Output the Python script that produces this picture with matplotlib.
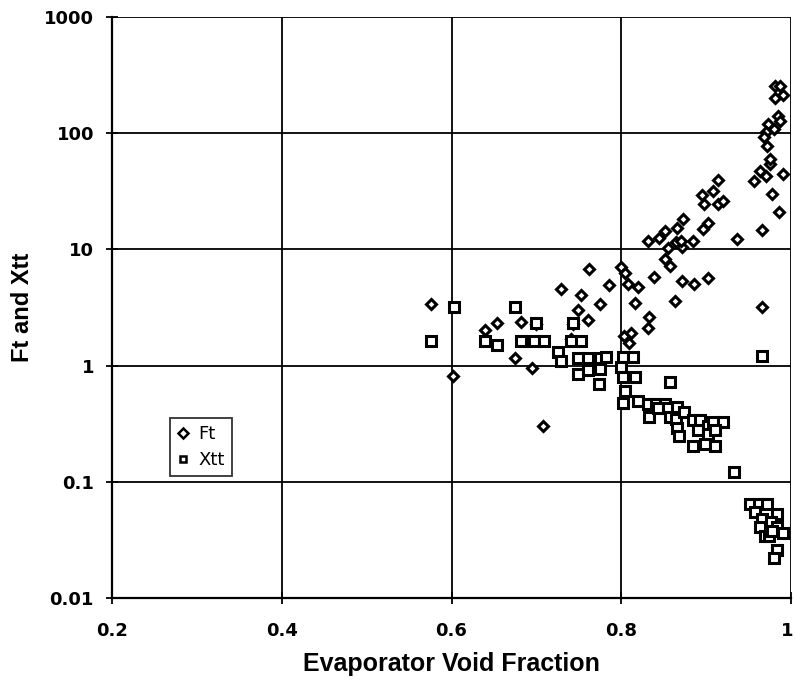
import matplotlib
matplotlib.use("Agg")
import matplotlib.pyplot as plt
import matplotlib.transforms as mtrans
from matplotlib.ticker import FixedLocator, FixedFormatter, NullLocator

# Ft data (diamonds)
ft_x = [0.576, 0.602, 0.640, 0.654, 0.682, 0.675, 0.695, 0.708, 0.700, 0.729,
        0.752, 0.749, 0.761, 0.775, 0.743, 0.741, 0.762, 0.786, 0.800, 0.805,
        0.808, 0.820, 0.816, 0.803, 0.811, 0.809, 0.833, 0.831, 0.839, 0.863,
        0.871, 0.886, 0.902, 0.851, 0.858, 0.831, 0.845, 0.852, 0.866, 0.873,
        0.864, 0.872, 0.884, 0.855, 0.896, 0.902, 0.936, 0.966, 0.895, 0.897,
        0.908, 0.914, 0.914, 0.920, 0.956, 0.964, 0.970, 0.975, 0.990, 0.978,
        0.986, 0.966, 0.981, 0.987, 0.991, 0.981, 0.985, 0.987, 0.973, 0.980,
        0.970, 0.968, 0.972, 0.975, 0.870]
ft_y = [3.42, 0.82, 2.04, 2.34, 2.39, 1.17, 0.96, 0.30, 2.30, 4.60,
        4.08, 3.03, 2.49, 3.42, 2.30, 1.71, 6.84, 4.95, 7.11, 6.23,
        5.08, 4.72, 3.48, 1.81, 1.92, 1.56, 2.60, 2.09, 5.75, 3.62,
        5.39, 5.05, 5.64, 8.33, 7.25, 11.9, 12.6, 14.5, 15.4, 18.4,
        11.5, 10.4, 11.7, 10.2, 15.1, 16.8, 12.4, 14.8, 29.6, 24.8,
        32.1, 39.9, 24.8, 26.3, 38.5, 47.6, 43.1, 54.7, 44.9, 30.2,
        20.9, 3.22, 257, 257, 215, 199, 142, 128, 121, 109,
        102, 92, 78, 60, 11.9]

# Xtt data (squares)
xtt_x = [0.576, 0.603, 0.675, 0.640, 0.654, 0.682, 0.697, 0.709, 0.700, 0.743,
         0.726, 0.729, 0.741, 0.753, 0.749, 0.761, 0.775, 0.782, 0.761, 0.775,
         0.749, 0.774, 0.802, 0.814, 0.800, 0.802, 0.816, 0.857, 0.804, 0.802,
         0.820, 0.831, 0.841, 0.851, 0.833, 0.843, 0.855, 0.866, 0.857, 0.864,
         0.874, 0.866, 0.868, 0.884, 0.893, 0.902, 0.908, 0.920, 0.890, 0.902,
         0.911, 0.899, 0.911, 0.884, 0.966, 0.933, 0.952, 0.962, 0.972, 0.958,
         0.966, 0.984, 0.964, 0.976, 0.969, 0.984, 0.990, 0.984, 0.980, 0.974,
         0.978]
xtt_y = [1.64, 3.18, 3.18, 1.64, 1.49, 1.64, 1.64, 1.64, 2.31, 2.31,
         1.30, 1.10, 1.64, 1.64, 1.17, 1.17, 1.17, 1.18, 0.91, 0.94,
         0.85, 0.69, 1.18, 1.18, 0.97, 0.79, 0.79, 0.72, 0.61, 0.48,
         0.50, 0.47, 0.47, 0.47, 0.36, 0.43, 0.43, 0.44, 0.36, 0.35,
         0.40, 0.29, 0.25, 0.34, 0.34, 0.30, 0.33, 0.33, 0.28, 0.26,
         0.28, 0.21, 0.205, 0.205, 1.22, 0.121, 0.065, 0.065, 0.065, 0.055,
         0.048, 0.053, 0.041, 0.045, 0.034, 0.041, 0.036, 0.026, 0.022, 0.034,
         0.038]

x_ticks = [0.2, 0.4, 0.6, 0.8, 1.0]
x_labels = ["0.2", "0.4", "0.6", "0.8", "1"]
y_ticks = [0.01, 0.1, 1, 10, 100, 1000]
y_labels = ["0.01", "0.1", "1", "10", "100", "1000"]

plt.rcParams['font.family'] = ['Liberation Sans', 'DejaVu Sans']

fig = plt.figure(figsize=(7.95, 6.86), dpi=100)
L, R, T, B = 112, 791, 17, 598
ax = fig.add_axes([L/795, 1 - B/686, (R - L)/795, (B - T)/686])

ax.set_yscale('log')
ax.set_xlim(0.2, 1.0)
ax.set_ylim(0.01, 1000)

ax.plot(ft_x, ft_y, linestyle='none', marker='D', markersize=5.6,
        markerfacecolor='white', markeredgecolor='black', markeredgewidth=2.2,
        label='Ft', zorder=3)
ax.plot(xtt_x, xtt_y, linestyle='none', marker='s', markersize=7.4,
        markerfacecolor='white', markeredgecolor='black', markeredgewidth=2.2,
        label='Xtt', zorder=3)

ax.xaxis.set_major_locator(FixedLocator(x_ticks))
ax.xaxis.set_major_formatter(FixedFormatter(x_labels))
ax.yaxis.set_major_locator(FixedLocator(y_ticks))
ax.yaxis.set_major_formatter(FixedFormatter(y_labels))
ax.yaxis.set_minor_locator(NullLocator())

ax.grid(True, which='major', color='black', linewidth=1.3)
ax.set_axisbelow(True)
for side in ['top', 'right']:
    ax.spines[side].set_visible(False)
for side in ['left', 'bottom']:
    ax.spines[side].set_linewidth(1.6)

ax.tick_params(axis='both', which='major', direction='inout', length=8,
               width=1.3, labelsize=13)
ax.tick_params(axis='x', pad=13)
ax.tick_params(axis='y', pad=9)
for lbl in ax.get_xticklabels() + ax.get_yticklabels():
    lbl.set_fontweight('bold')
    lbl.set_family('DejaVu Sans')
# keep the last x label inside the figure
xl = ax.get_xticklabels()
xl[-1].set_horizontalalignment('right')
xl[-1].set_transform(xl[-1].get_transform() + mtrans.ScaledTranslation(1.5/72, 0, fig.dpi_scale_trans))

ax.set_xlabel('Evaporator Void Fraction', fontsize=18, fontweight='bold', labelpad=9)
ax.set_ylabel('Ft and Xtt', fontsize=17, fontweight='bold')
ax.yaxis.set_label_coords(-0.115, 0.5)

leg = ax.legend(loc='upper left', bbox_to_anchor=(0.085, 0.31), frameon=True,
                fancybox=False, edgecolor='black',
                prop={'family': 'DejaVu Sans', 'size': 13},
                handlelength=0.7, handletextpad=0.5, borderpad=0.4,
                labelspacing=0.45, borderaxespad=0)
leg.get_frame().set_linewidth(1.3)
for h in leg.legend_handles:
    h.set_markersize(5)
    h.set_markeredgewidth(1.8)

fig.savefig('out.png', dpi=100)
